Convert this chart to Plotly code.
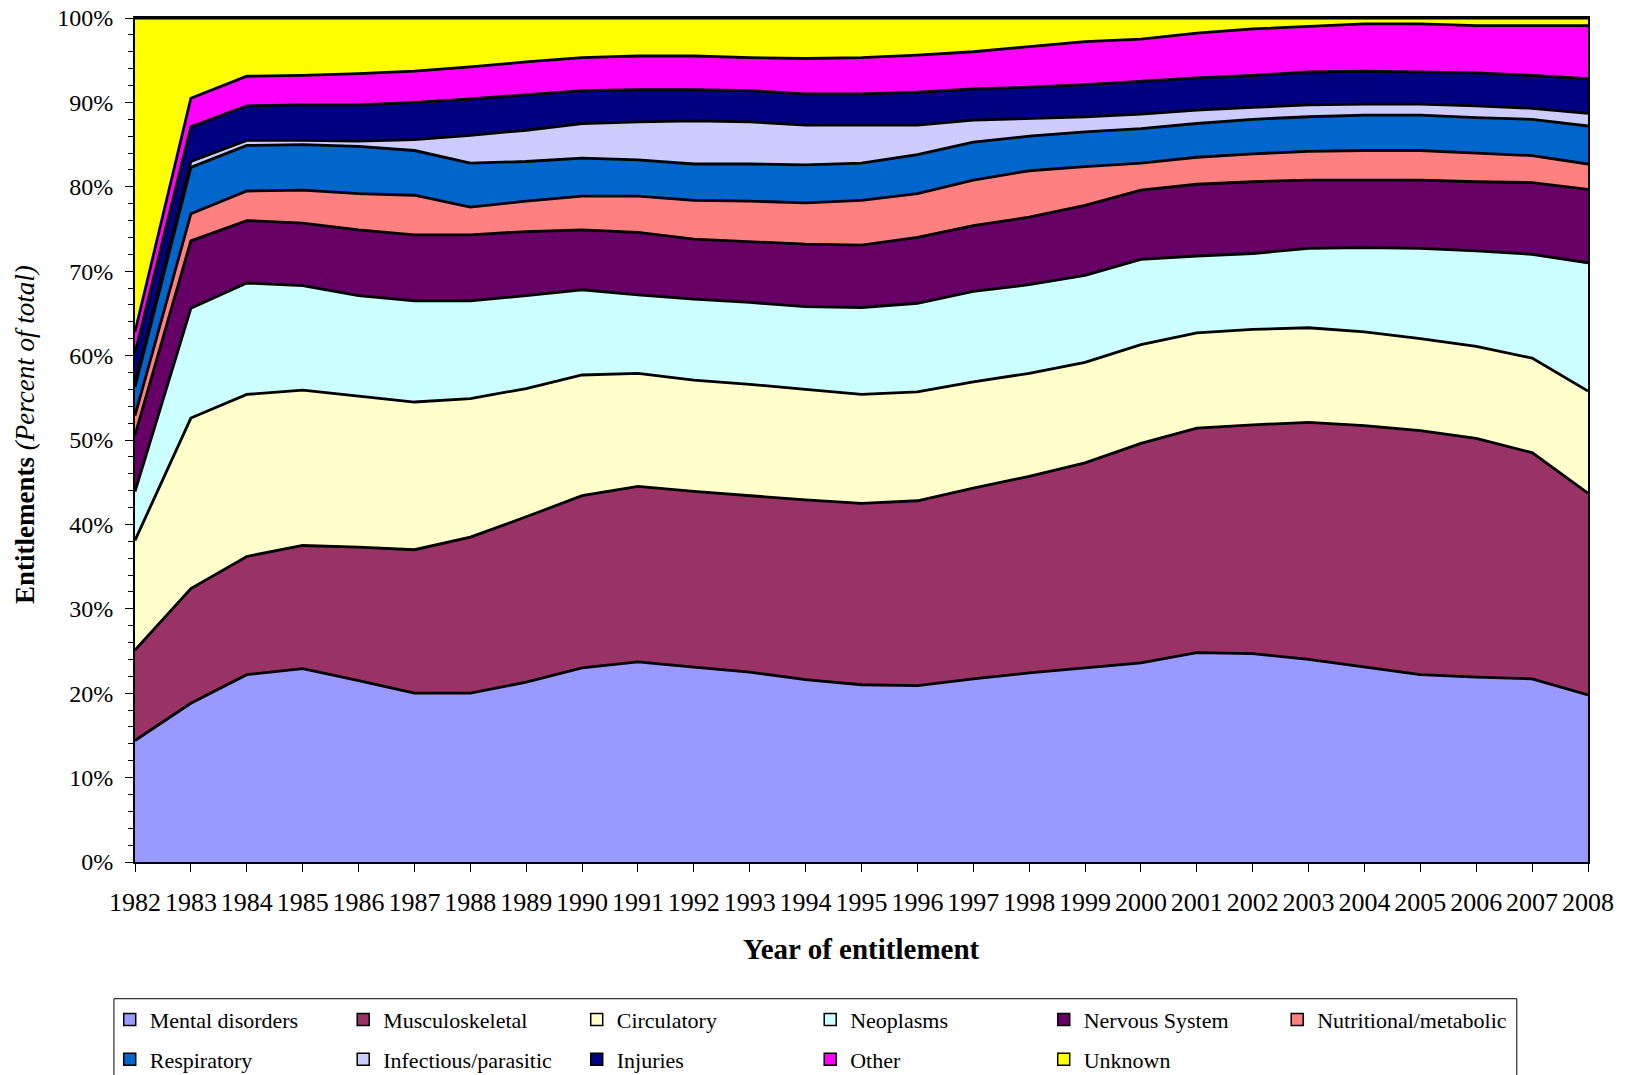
import plotly.graph_objects as go

# year of entitlement
years = list(range(1982, 2009))

# share of entitlements by primary diagnosis (percent of total)
mental = [14.4, 18.8, 22.2, 22.9, 21.5, 20.0, 20.0, 21.3, 23.0, 23.7, 23.1, 22.5, 21.6, 21.0,
          20.9, 21.7, 22.4, 23.0, 23.6, 24.8, 24.7, 24.0, 23.1, 22.2, 21.9, 21.7, 19.8]
musculoskeletal = [10.7, 13.6, 14.0, 14.6, 15.8, 17.0, 18.5, 19.6, 20.4, 20.8, 20.8, 20.9, 21.3, 21.5,
                   21.9, 22.6, 23.3, 24.3, 26.0, 26.6, 27.1, 28.1, 28.6, 28.9, 28.3, 26.8, 23.9]
circulatory = [13.0, 20.2, 19.2, 18.4, 17.9, 17.5, 16.4, 15.2, 14.3, 13.4, 13.2, 13.2, 13.1, 12.9,
               12.9, 12.6, 12.2, 11.9, 11.7, 11.3, 11.3, 11.2, 11.1, 10.9, 10.9, 11.2, 12.1]
neoplasms = [5.8, 13.0, 13.2, 12.4, 11.9, 12.0, 11.6, 11.0, 10.1, 9.3, 9.6, 9.7, 9.8, 10.3,
             10.5, 10.7, 10.5, 10.3, 10.1, 9.1, 9.0, 9.4, 10.0, 10.7, 11.3, 12.3, 15.2]
nervous = [6.7, 8.0, 7.4, 7.4, 7.8, 7.8, 7.8, 7.6, 7.1, 7.4, 7.1, 7.2, 7.4, 7.4,
           7.8, 7.8, 8.0, 8.3, 8.2, 8.5, 8.5, 8.1, 8.0, 8.1, 8.2, 8.5, 8.7]
nutritional = [2.3, 3.2, 3.5, 3.9, 4.3, 4.7, 3.3, 3.6, 4.0, 4.3, 4.6, 4.8, 4.9, 5.3,
               5.2, 5.4, 5.5, 4.6, 3.2, 3.2, 3.3, 3.4, 3.5, 3.5, 3.4, 3.2, 3.0]
respiratory = [3.4, 5.5, 5.4, 5.4, 5.6, 5.3, 5.2, 4.7, 4.5, 4.3, 4.3, 4.4, 4.5, 4.4,
               4.6, 4.5, 4.1, 4.1, 4.1, 4.0, 4.1, 4.1, 4.2, 4.2, 4.2, 4.3, 4.5]
infectious = [0.4, 0.7, 0.6, 0.5, 0.6, 1.3, 3.3, 3.7, 4.1, 4.5, 5.1, 5.0, 4.7, 4.5,
              3.5, 2.6, 2.1, 1.8, 1.7, 1.6, 1.4, 1.4, 1.3, 1.3, 1.4, 1.3, 1.5]
injuries = [3.6, 4.1, 4.1, 4.2, 4.3, 4.4, 4.3, 4.2, 3.9, 3.8, 3.7, 3.7, 3.7, 3.7,
            3.9, 3.7, 3.7, 3.8, 3.9, 3.8, 3.8, 3.9, 3.9, 3.8, 3.9, 3.9, 4.1]
other = [2.5, 3.4, 3.5, 3.5, 3.7, 3.7, 3.8, 3.9, 3.9, 4.0, 4.0, 3.9, 4.2, 4.3,
         4.4, 4.4, 4.8, 5.1, 5.0, 5.3, 5.5, 5.4, 5.6, 5.7, 5.6, 5.9, 6.3]
unknown = [37.2, 9.5, 6.9, 6.8, 6.6, 6.3, 5.8, 5.2, 4.7, 4.5, 4.5, 4.7, 4.8, 4.7,
           4.4, 4.0, 3.4, 2.8, 2.5, 1.8, 1.3, 1.0, 0.7, 0.7, 0.9, 0.9, 0.9]

series = [
    ("Mental disorders", mental, "#9999FF"),
    ("Musculoskeletal", musculoskeletal, "#993366"),
    ("Circulatory", circulatory, "#FFFFCC"),
    ("Neoplasms", neoplasms, "#CCFFFF"),
    ("Nervous System", nervous, "#660066"),
    ("Nutritional/metabolic", nutritional, "#FF8080"),
    ("Respiratory", respiratory, "#0066CC"),
    ("Infectious/parasitic", infectious, "#CCCCFF"),
    ("Injuries", injuries, "#000080"),
    ("Other", other, "#FF00FF"),
    ("Unknown", unknown, "#FFFF00"),
]

SERIF = "Liberation Serif, Times New Roman, serif"

fig = go.Figure()

# 100% stacked areas
for i, (name, vals, color) in enumerate(series):
    fig.add_trace(go.Scatter(
        x=years, y=vals, name=name, mode="lines",
        stackgroup="one", groupnorm="percent" if i == 0 else None,
        line=dict(color="black", width=2.8), fillcolor=color,
        showlegend=False, hoverinfo="x+y+name",
    ))

# legend entries (small squares), split over two rows
for i, (name, vals, color) in enumerate(series):
    fig.add_trace(go.Scatter(
        x=[None], y=[None], name=name, mode="markers",
        marker=dict(symbol="square", size=12, color=color, line=dict(color="black", width=1.5)),
        legend="legend" if i < 6 else "legend2",
    ))

legend_common = dict(
    orientation="h", font=dict(family=SERIF, size=22, color="black"),
    entrywidth=188.5, entrywidthmode="pixels", bgcolor="rgba(0,0,0,0)",
    borderwidth=0, xanchor="left", yanchor="top", itemwidth=30, traceorder="normal",
)

fig.update_layout(
    width=1627, height=1075,
    margin=dict(l=135, r=39, t=18, b=213, autoexpand=False),
    paper_bgcolor="white", plot_bgcolor="white",
    font=dict(family=SERIF, color="black"),
    legend=dict(x=-0.0174, y=-0.162, **legend_common),
    legend2=dict(x=-0.0174, y=-0.209, **legend_common),
    shapes=[dict(type="rect", xref="paper", yref="paper",
                 x0=-0.0145, x1=0.951, y0=-0.162, y1=-0.30,
                 line=dict(color="black", width=1), fillcolor="rgba(0,0,0,0)", layer="below")],
    annotations=[
        dict(text="<b>Entitlements</b> <i>(Percent of total)</i>", textangle=-90,
             xref="paper", yref="paper", x=-0.0757, y=0.506, xanchor="center", yanchor="middle",
             showarrow=False, font=dict(family=SERIF, size=27, color="black")),
        dict(text="<b>Year of entitlement</b>",
             xref="paper", yref="paper", x=0.5, y=-0.103, xanchor="center", yanchor="middle",
             showarrow=False, font=dict(family=SERIF, size=29, color="black")),
    ],
)

fig.update_xaxes(
    range=[1982, 2008], tickmode="array", tickvals=years, ticktext=[str(y) for y in years],
    ticks="outside", ticklen=8, tickwidth=1, tickcolor="black",
    tickfont=dict(family=SERIF, size=26, color="black"), ticklabelstandoff=8,
    ticklabeloverflow="allow",
    showline=True, linecolor="black", linewidth=2, mirror=True,
    showgrid=False, zeroline=False, automargin=False,
)
fig.update_yaxes(
    range=[0, 100], dtick=10, ticksuffix="%",
    ticks="outside", ticklen=8, tickwidth=1, tickcolor="black",
    minor=dict(dtick=2, ticks="outside", ticklen=5, tickcolor="black", tickwidth=1),
    tickfont=dict(family=SERIF, size=24, color="black"), ticklabelstandoff=7,
    ticklabeloverflow="allow",
    showline=True, linecolor="black", linewidth=2, mirror=True,
    showgrid=False, zeroline=False, automargin=False,
)

# drop the default page margin so the figure sits at the window's corner
fig.write_html("out.html", config={"displayModeBar": False},
               post_script="document.body.style.margin = '0';")
